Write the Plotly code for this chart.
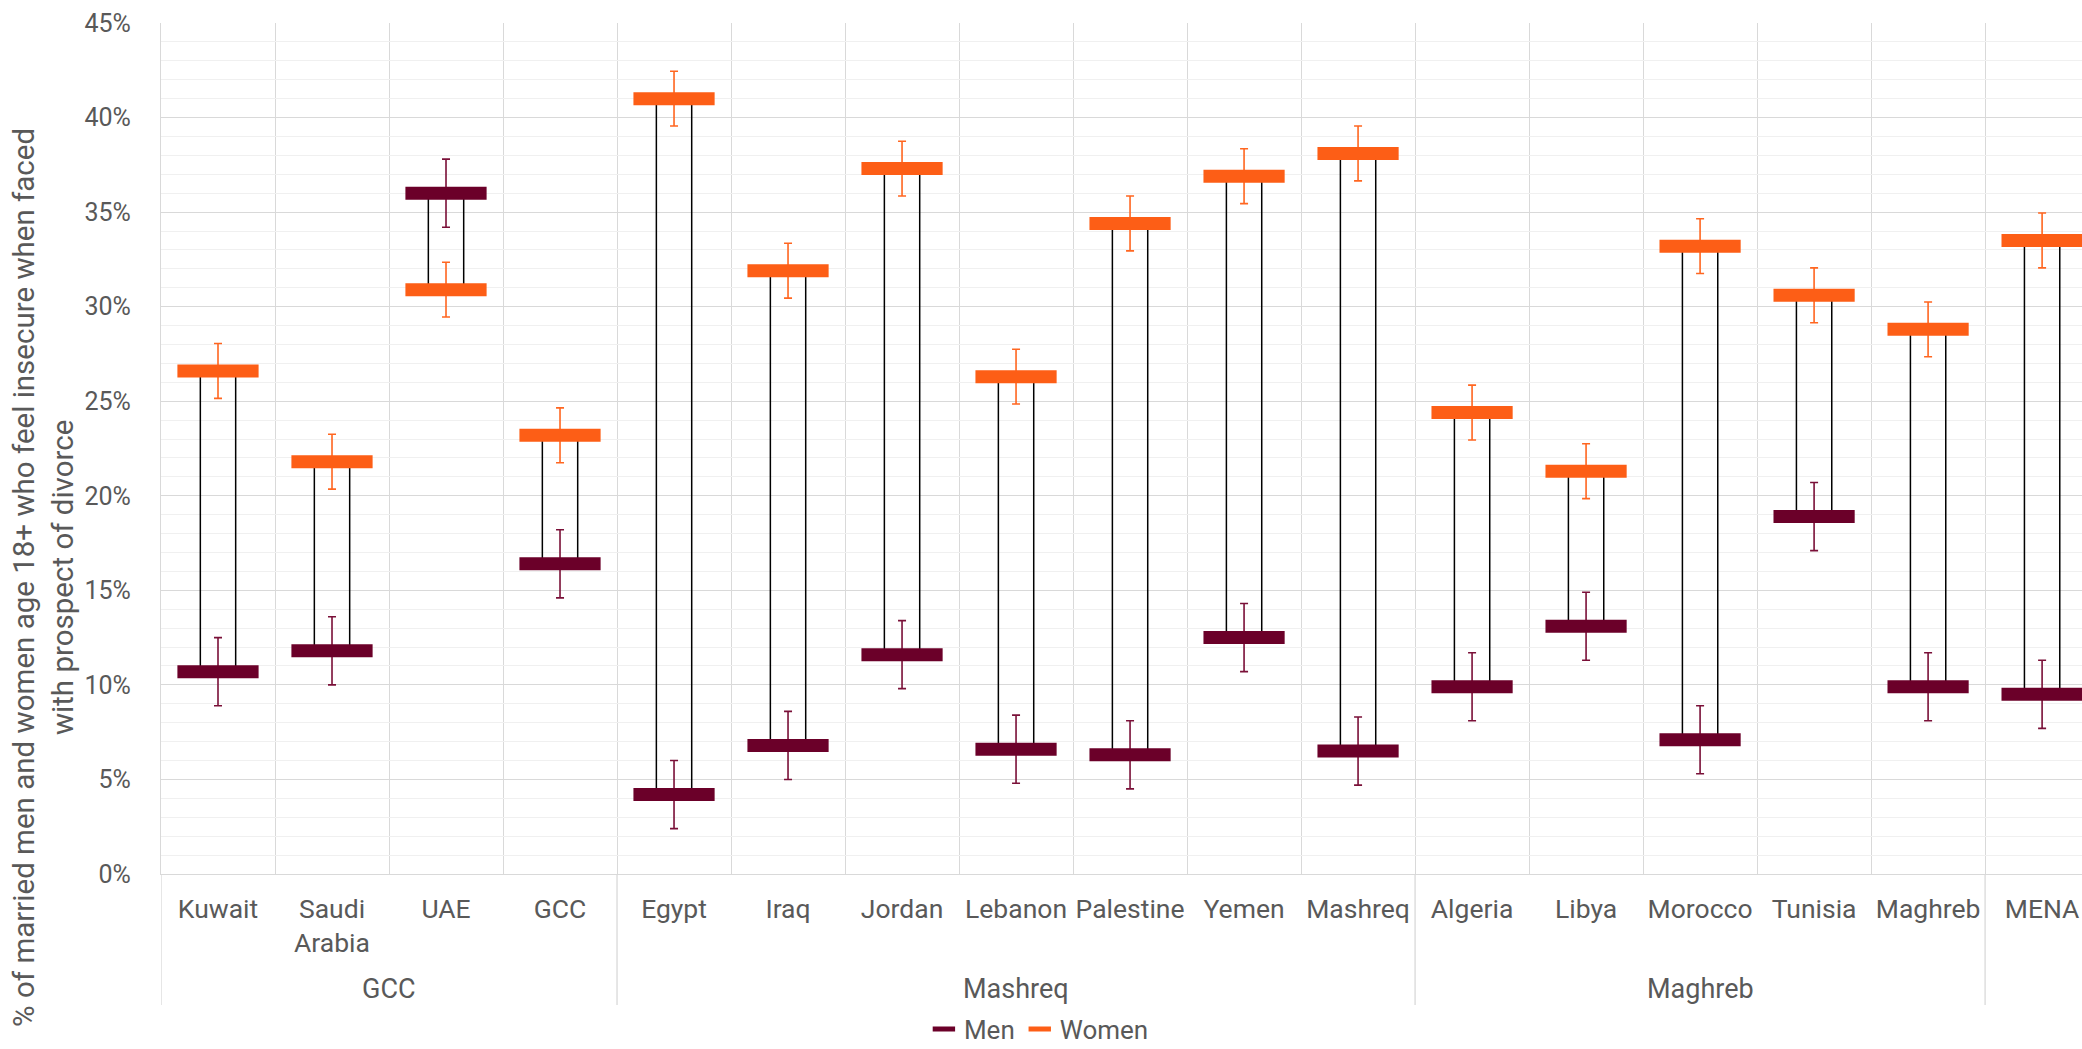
import plotly.graph_objects as go

categories = ["Kuwait", "Saudi<br>Arabia", "UAE", "GCC", "Egypt", "Iraq", "Jordan", "Lebanon",
              "Palestine", "Yemen", "Mashreq", "Algeria", "Libya", "Morocco", "Tunisia", "Maghreb", "MENA"]
groups = ["GCC", "GCC", "GCC", "GCC",
          "Mashreq", "Mashreq", "Mashreq", "Mashreq", "Mashreq", "Mashreq", "Mashreq",
          "Maghreb", "Maghreb", "Maghreb", "Maghreb", "Maghreb", ""]
men = [10.7, 11.8, 36.0, 16.4, 4.2, 6.8, 11.6, 6.6, 6.3, 12.5, 6.5, 9.9, 13.1, 7.1, 18.9, 9.9, 9.5]
women = [26.6, 21.8, 30.9, 23.2, 41.0, 31.9, 37.3, 26.3, 34.4, 36.9, 38.1, 24.4, 21.3, 33.2, 30.6, 28.8, 33.5]
men_err = [1.8, 1.8, 1.8, 1.8, 1.8, 1.8, 1.8, 1.8, 1.8, 1.8, 1.8, 1.8, 1.8, 1.8, 1.8, 1.8, 1.8]
women_err = [1.45, 1.45, 1.45, 1.45, 1.45, 1.45, 1.45, 1.45, 1.45, 1.45, 1.45, 1.45, 1.45, 1.45, 1.45, 1.45, 1.45]
y_title = "% of married men and women age 18+ who feel insecure when faced<br>with prospect of divorce"

MEN_C = "#6b0029"
WOMEN_C = "#fd5e16"
GRID = "#d9d9d9"
MINOR = "#f0f0f0"
TXT = "#595959"
FONT = "Roboto"

x = list(range(len(categories)))

fig = go.Figure()

# high-low connectors (outlined, unfilled bars)
fig.add_trace(go.Bar(
    x=x,
    base=[min(m, w) for m, w in zip(men, women)],
    y=[abs(w - m) for m, w in zip(men, women)],
    width=0.31,
    marker=dict(color="rgba(0,0,0,0)", line=dict(color="#000000", width=1.5)),
    showlegend=False, hoverinfo="skip",
))

fig.add_trace(go.Scatter(
    x=x, y=men, mode="markers", name="Men",
    marker=dict(symbol="line-ew", size=58, color=MEN_C, line=dict(color=MEN_C, width=13)),
    error_y=dict(type="data", array=men_err, color="#7a1038", thickness=1.6, width=4),
))
fig.add_trace(go.Scatter(
    x=x, y=women, mode="markers", name="Women",
    marker=dict(symbol="line-ew", size=58, color=WOMEN_C, line=dict(color=WOMEN_C, width=13)),
    error_y=dict(type="data", array=women_err, color="#ff6620", thickness=1.6, width=4),
))

# group separators & labels below axis
bounds = [-0.5]
for i in range(1, len(groups)):
    if groups[i] != groups[i - 1]:
        bounds.append(i - 0.5)
shapes = [dict(type="line", xref="x", yref="paper", x0=b, x1=b, y0=0, y1=-0.154,
               line=dict(color=GRID, width=1.3)) for b in bounds]

annotations = []
seen = []
for g in groups:
    if g and g not in seen:
        seen.append(g)
for g in seen:
    idx = [i for i, gg in enumerate(groups) if gg == g]
    annotations.append(dict(x=sum(idx) / len(idx), y=-0.135, xref="x", yref="paper",
                            text=g, showarrow=False, font=dict(family=FONT, size=27, color=TXT),
                            xanchor="center", yanchor="middle"))

annotations.append(dict(
    x=-0.0614, y=0.348, xref="paper", yref="paper", textangle=-90, showarrow=False,
    text=y_title, font=dict(family=FONT, size=29.5, color=TXT),
    xanchor="center", yanchor="middle"))

fig.update_layout(
    width=2082, height=1049, autosize=False,
    margin=dict(l=161, r=0, t=23, b=175, autoexpand=False),
    paper_bgcolor="white", plot_bgcolor="white",
    font=dict(family=FONT, size=24, color=TXT),
    barmode="overlay",
    shapes=shapes, annotations=annotations,
    legend=dict(orientation="h", x=0.457, xanchor="center",
                yref="container", y=0.019, yanchor="middle",
                font=dict(family=FONT, size=26, color=TXT), itemwidth=30),
    xaxis=dict(range=[-0.5, 16.35], tickmode="array", tickvals=x, ticktext=categories,
               showgrid=False, zeroline=False, ticks="", showline=True, linecolor=GRID, linewidth=1.3,
               tickfont=dict(family=FONT, size=26.5, color=TXT), ticklabelstandoff=11,
               minor=dict(tick0=0.5, dtick=1, showgrid=True, gridcolor=GRID, gridwidth=1.3)),
    yaxis=dict(range=[0, 45], tick0=0, dtick=5, ticksuffix="%", showgrid=True, gridcolor=GRID,
               gridwidth=1.3, zeroline=False, ticks="", showline=True, linecolor=GRID, linewidth=1.3,
               tickfont=dict(family=FONT, size=25, color=TXT), ticklabelstandoff=24,
               minor=dict(dtick=1, showgrid=True, gridcolor=MINOR, gridwidth=1)),
)

fig.write_html("out.html", config={"displayModeBar": False},
               post_script="document.body.style.margin='0';")
